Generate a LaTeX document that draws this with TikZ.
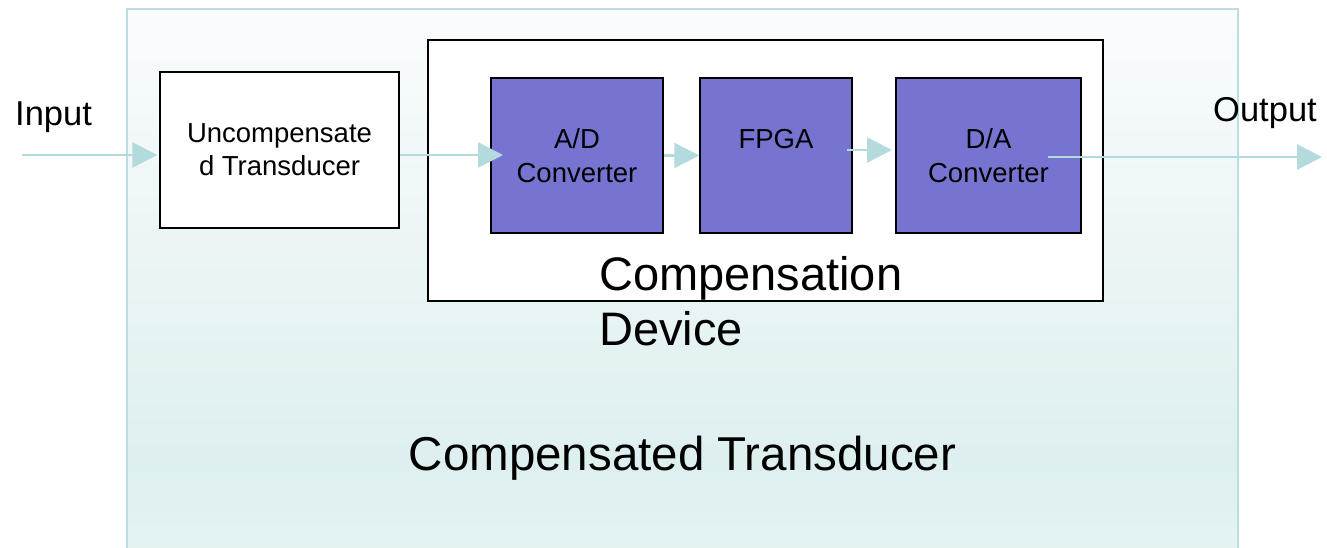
\documentclass[tikz,border=0pt]{standalone}
\usepackage{fontspec}
\setmainfont{Liberation Sans}
\usetikzlibrary{arrows.meta,calc}

\definecolor{flowcol}{HTML}{B3DADD}
\definecolor{rimcol}{HTML}{B9DFE3}
\definecolor{chipcol}{HTML}{7674D0}
\definecolor{fadeTop}{HTML}{FAFCFD}
\definecolor{fadeMid}{HTML}{E9F4F5}
\definecolor{fadeDeep}{HTML}{DEEFEF}
\definecolor{fadeBot}{HTML}{E5F3F3}

% soft teal fade for the enclosing transducer panel
\pgfdeclareverticalshading{outerfade}{100bp}{%
  color(0bp)=(fadeBot); color(25bp)=(fadeBot); color(34bp)=(fadeDeep);
  color(50bp)=(fadeMid); color(75bp)=(fadeTop); color(100bp)=(fadeTop)}

\tikzset{
  plainbox/.style={draw=black, line width=1.5pt, fill=white, inner sep=0pt, align=center},
  chipbox/.style={draw=black, line width=1.5pt, fill=chipcol, inner sep=0pt, align=center,
                  minimum height=155pt, font=\fontsize{27.5}{34}\selectfont},
  flow/.style={draw=flowcol, line width=2.5pt, -{Triangle[length=25pt,width=25pt]}},
  caption/.style={inner sep=0pt}
}

\begin{document}
\begin{tikzpicture}[x=1pt,y=-1pt]
\useasboundingbox (0,0) rectangle (1327,548);
\clip (0,0) rectangle (1327,548);

% enclosing panel: compensated transducer
\path[shading=outerfade] (127,9) rectangle (1238,560);
\draw[rimcol, line width=1.5pt] (127,560) -- (127,9) -- (1238,9) -- (1238,560);

% compensation device frame
\node[plainbox, minimum width=675pt, minimum height=261pt] (comp) at (765.5,170.5) {};

% blocks
\node[plainbox, minimum width=239pt, minimum height=156pt,
      font=\fontsize{27.5}{33}\selectfont] (uc) at (279.5,150) {Uncompensate\\d Transducer};
\node[chipbox, minimum width=172pt] (ad) at (577,155.5) {A/D\\Converter};
\node[chipbox, minimum width=152pt] (fpga) at (776,155.5) {FPGA\\\mbox{}};
\node[chipbox, minimum width=185pt] (da) at (988.5,155.5) {D/A\\Converter};

% captions
\node[caption, anchor=base west, font=\fontsize{34.5}{40}\selectfont] (inlbl) at (15,126) {Input};
\node[caption, anchor=base west, font=\fontsize{34.5}{40}\selectfont] (outlbl) at (1213,122) {Output};
\node[caption, anchor=base west, align=left, font=\fontsize{47}{55}\selectfont] (cdlbl) at (599,345) {Compensation\\Device};
\node[caption, anchor=base, font=\fontsize{47.5}{55}\selectfont] (ctlbl) at (682.5,470) {Compensated Transducer};

% signal path
\coordinate (src) at (22,155);
\coordinate (adin) at (503,155);
\coordinate (fpgaout) at (847,150);
\coordinate (dain) at (892,150);
\coordinate (daout) at (1048,157);
\coordinate (sink) at (1322,157);

\draw[flow, shorten >=2pt] (src) -- (uc.west |- src);
\draw[flow] (uc.east |- adin) -- (adin);
\draw[flow] (ad.east) -- (fpga.west);
\draw[flow] (fpgaout) -- (dain);
\draw[flow] (daout) -- (sink);
\end{tikzpicture}
\end{document}
